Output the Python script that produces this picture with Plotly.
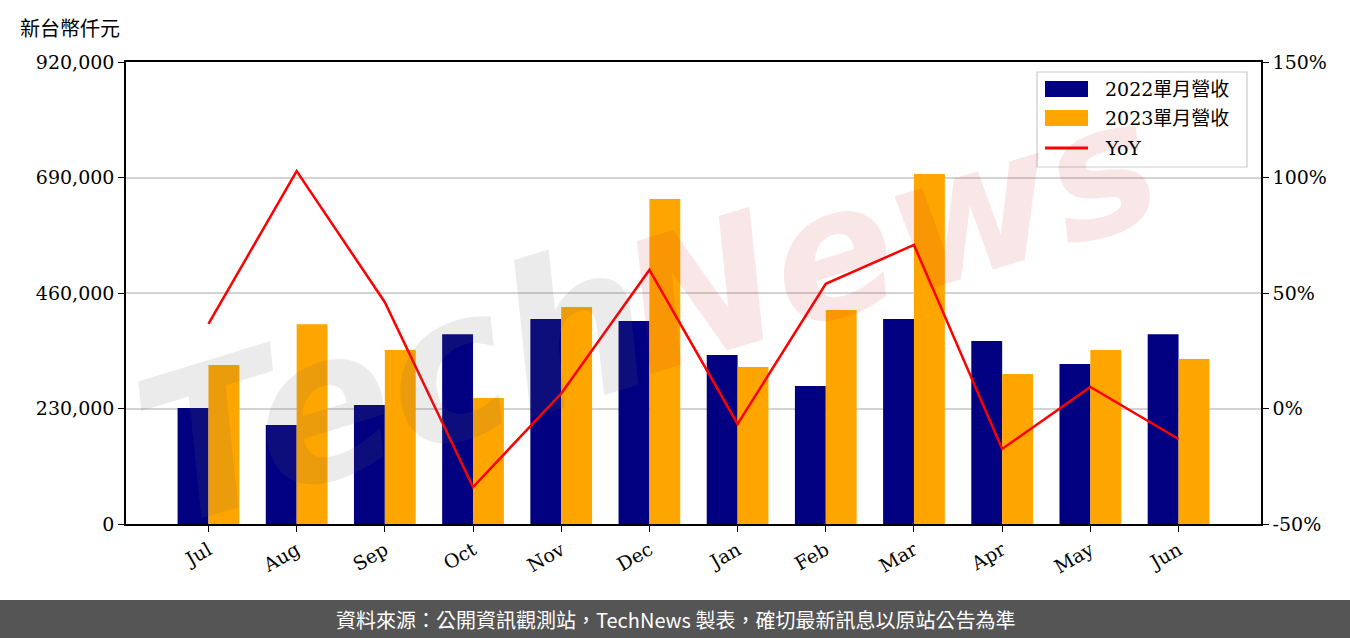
import plotly.graph_objects as go

months = ["Jul", "Aug", "Sep", "Oct", "Nov", "Dec", "Jan", "Feb", "Mar", "Apr", "May", "Jun"]
rev_2022 = [231000, 197000, 237000, 378000, 408000, 404000, 336500, 274800, 408000, 364400, 318600, 378000]
rev_2023 = [316600, 398000, 346500, 250900, 432100, 647000, 312600, 426000, 697000, 298700, 346500, 328500]
yoy_pct = [36.6, 102.8, 46.0, -34.0, 6.5, 60.0, -6.7, 54.0, 70.8, -17.5, 9.3, -13.2]
left_ticks = [0, 230000, 460000, 690000, 920000]
right_ticks = [-50, 0, 50, 100, 150]
right_labels = ["-50%", "0%", "50%", "100%", "150%"]
series_names = ["2022單月營收", "2023單月營收", "YoY"]
series_colors = ["#000080", "#FFA500", "#FF0000"]

idx = list(range(len(months)))
SERIF = "DejaVu Serif, Noto Sans CJK TC, serif"

W, H = 1350, 638
L, R, T, B = 126, 89, 62, 114
PW, PH = W - L - R, H - T - B


def px(x):
    return (x - L) / PW


def py(y):
    return (H - B - y) / PH


fig = go.Figure()
fig.add_trace(go.Bar(x=idx, y=rev_2022, width=0.35, offset=-0.35, name=series_names[0],
                     marker=dict(color=series_colors[0], line=dict(width=0))))
fig.add_trace(go.Bar(x=idx, y=rev_2023, width=0.35, offset=0, name=series_names[1],
                     marker=dict(color=series_colors[1], line=dict(width=0))))
fig.add_trace(go.Scatter(x=idx, y=yoy_pct, mode="lines", name=series_names[2], yaxis="y2",
                         line=dict(color=series_colors[2], width=2.5)))

fig.update_layout(
    width=W, height=H,
    margin=dict(l=L, r=R, t=T, b=B),
    paper_bgcolor="white", plot_bgcolor="white",
    font=dict(family=SERIF, size=18, color="black"),
    barmode="overlay",
    showlegend=False,
    xaxis=dict(range=[-0.935, 11.935], tickvals=idx, ticktext=months, tickangle=-30,
               showline=True, linecolor="black", linewidth=1.5, mirror=True,
               ticks="outside", ticklen=6, tickcolor="black", showgrid=False, zeroline=False,
               tickfont=dict(family=SERIF, size=19)),
    yaxis=dict(range=[0, 920000], tickvals=left_ticks, tickformat=",", showline=True,
               linecolor="black", linewidth=1.5, mirror=True, ticks="outside", ticklen=6,
               tickcolor="black", showgrid=True, gridcolor="#d3d3d3", gridwidth=1.5,
               zeroline=False, tickfont=dict(family=SERIF, size=19)),
    yaxis2=dict(range=[-50, 150], tickvals=right_ticks, ticktext=right_labels, overlaying="y",
                side="right", showline=True, linecolor="black", linewidth=1.5,
                ticks="outside", ticklen=6, tickcolor="black", showgrid=False, zeroline=False,
                tickfont=dict(family=SERIF, size=19)),
)

# unit label
fig.add_annotation(xref="paper", yref="paper", x=px(18), y=py(27), xanchor="left", yanchor="middle",
                   text="新台幣仟元", showarrow=False, font=dict(family="Noto Sans CJK TC", size=20))

# watermark
fig.add_annotation(xref="paper", yref="paper", x=px(395), y=py(385), xanchor="center", yanchor="middle",
                   text="<b><i>Tech</i></b>", showarrow=False, textangle=-17,
                   font=dict(family="DejaVu Sans", size=205, color="rgba(100,100,100,0.13)"))
fig.add_annotation(xref="paper", yref="paper", x=px(890), y=py(235), xanchor="center", yanchor="middle",
                   text="<b><i>News</i></b>", showarrow=False, textangle=-17,
                   font=dict(family="DejaVu Sans", size=180, color="rgba(200,40,40,0.11)"))

# custom legend
fig.add_shape(type="rect", xref="paper", yref="paper", x0=px(1037), x1=px(1247), y0=py(167), y1=py(72),
              fillcolor="rgba(255,255,255,0.8)", line=dict(color="#cccccc", width=1.2), layer="above")
leg_y = [89, 118, 148]
for i, name in enumerate(series_names):
    if i < 2:
        fig.add_shape(type="rect", xref="paper", yref="paper", x0=px(1045), x1=px(1088),
                      y0=py(leg_y[i] + 8), y1=py(leg_y[i] - 8), fillcolor=series_colors[i],
                      line=dict(width=0), layer="above")
    else:
        fig.add_shape(type="line", xref="paper", yref="paper", x0=px(1045), x1=px(1088),
                      y0=py(leg_y[i]), y1=py(leg_y[i]), line=dict(color=series_colors[i], width=3),
                      layer="above")
    fig.add_annotation(xref="paper", yref="paper", x=px(1103), y=py(leg_y[i]), xanchor="left",
                       yanchor="middle", text=name, showarrow=False,
                       font=dict(family=SERIF, size=19))

# footer
fig.add_shape(type="rect", xref="paper", yref="paper", x0=px(-5), x1=px(W + 5),
              y0=py(H + 5), y1=py(600), fillcolor="#555555", line=dict(width=0), layer="above")
fig.add_annotation(xref="paper", yref="paper", x=px(675), y=py(619),
                   xanchor="center", yanchor="middle", showarrow=False,
                   text="資料來源：公開資訊觀測站，TechNews 製表，確切最新訊息以原站公告為準",
                   font=dict(family="Noto Sans CJK TC", size=20, color="white"))

fig.write_html("out.html", config={"displayModeBar": False},
               post_script="document.body.style.margin='0';document.body.style.overflow='hidden';")
